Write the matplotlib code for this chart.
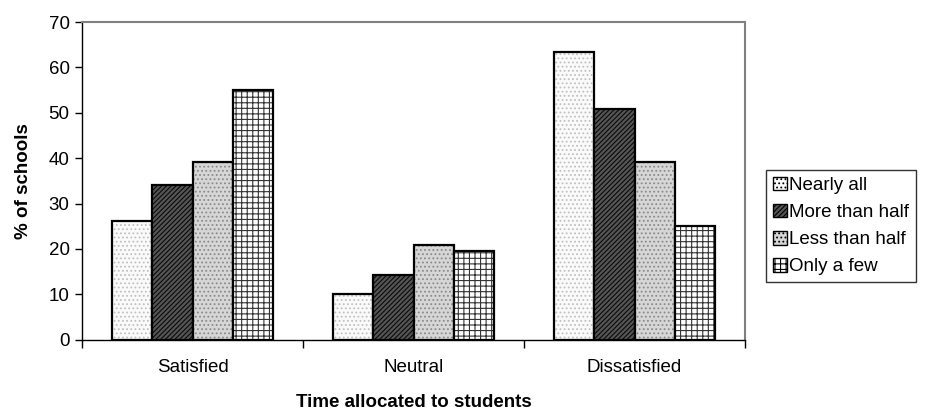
import numpy as np
import matplotlib
matplotlib.use("Agg")
import matplotlib.pyplot as plt
from matplotlib.patches import Patch

plt.rcParams["font.family"] = ["Liberation Sans", "DejaVu Sans"]
plt.rcParams["hatch.linewidth"] = 0.8

categories = ["Satisfied", "Neutral", "Dissatisfied"]
series = ["Nearly all", "More than half", "Less than half", "Only a few"]
nearly_all = [26.2, 10.0, 63.3]
more_than_half = [34.1, 14.3, 50.8]
less_than_half = [39.1, 20.9, 39.1]
only_a_few = [55.0, 19.6, 25.0]
values = [nearly_all, more_than_half, less_than_half, only_a_few]

# face, hatch, hatch colour per series
styles = [
    ("#fafafa", "....", "#c0c0c0"),
    ("#555555", "///////", "#0a0a0a"),
    ("#d6d6d6", "....", "#8a8a8a"),
    ("#ffffff", "+++", "#333333"),
]

fig = plt.figure(figsize=(9.29, 4.16), dpi=100)
ax = fig.add_axes([0.0883, 0.1834, 0.7137, 0.7636])

x = np.arange(len(categories))
w = 0.182
for i, (vals, (fc, h, hc)) in enumerate(zip(values, styles)):
    pos = x + (i - 1.5) * w
    ax.bar(pos, vals, w, color=fc, hatch=h, edgecolor=hc, linewidth=0)
    ax.bar(pos, vals, w, fill=False, edgecolor="black", linewidth=1.6)

fs = 13.5
ax.set_xlim(-0.5, 2.5)
ax.set_ylim(0, 70)
ax.set_yticks(range(0, 71, 10))
ax.set_xticks(x)
ax.set_xticklabels(categories, fontsize=fs)
ax.set_xticks([-0.5, 0.5, 1.5, 2.5], minor=True)
ax.tick_params(axis="x", which="major", length=0, pad=14)
ax.tick_params(axis="x", which="minor", length=6, direction="out", width=1)
ax.tick_params(axis="y", labelsize=fs, length=5, direction="out", width=1, pad=4)

for s in ["top", "right"]:
    ax.spines[s].set_color("#808080")
    ax.spines[s].set_linewidth(1.5)
for s in ["left", "bottom"]:
    ax.spines[s].set_color("black")
    ax.spines[s].set_linewidth(1.0)

ax.set_ylabel("% of schools", fontsize=fs, fontweight="bold", labelpad=12)
ax.set_xlabel("Time allocated to students", fontsize=fs, fontweight="bold", labelpad=13)

handles = [Patch(facecolor=fc, hatch=h, edgecolor="black", linewidth=1.0)
           for fc, h, hc in styles]
leg = fig.legend(handles, series, loc="upper left", bbox_to_anchor=(766 / 929, 1 - 170 / 416),
                 fontsize=fs, frameon=True, fancybox=False, edgecolor="black",
                 handlelength=0.75, handleheight=0.75, handletextpad=0.15,
                 labelspacing=0.52, borderpad=0.35, borderaxespad=0)
leg.get_frame().set_linewidth(1.0)

fig.savefig("out.png", dpi=100)
